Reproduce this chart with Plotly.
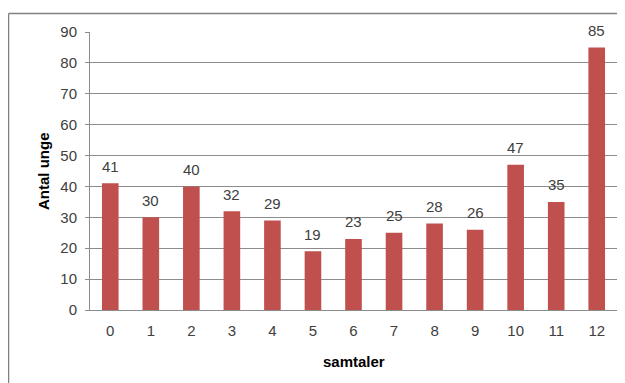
import plotly.graph_objects as go

categories = ["0", "1", "2", "3", "4", "5", "6", "7", "8", "9", "10", "11", "12"]
values = [41, 30, 40, 32, 29, 19, 23, 25, 28, 26, 47, 35, 85]
y_ticks = [0, 10, 20, 30, 40, 50, 60, 70, 80, 90]

# page body has an 8px margin, so the figure is shifted by 8px; compensate
OFF = 8
W, H = 625 - OFF, 383 - OFF
L, R, T, B = 90 - OFF, 8, 32 - OFF, 73
pw, ph = W - L - R, H - T - B

font = "Liberation Sans"
txt = "#404040"
grid = "#8c8c8c"

fig = go.Figure(go.Bar(
    x=categories, y=values,
    marker=dict(color="#C0504D", line=dict(width=0)),
    width=0.41, hoverinfo="skip",
))

label_ann = [dict(x=c, y=v, xref="x", yref="y", text=str(v), showarrow=False,
                  yanchor="middle", yshift=17,
                  font=dict(family=font, size=15, color=txt))
             for c, v in zip(categories, values)]


def px_x(p):
    return (p - OFF - L) / pw


def px_y(p):
    return (T + ph - (p - OFF)) / ph


fig.update_layout(
    width=W, height=H,
    margin=dict(l=L, r=R, t=T, b=B, pad=0),
    paper_bgcolor="white", plot_bgcolor="white",
    showlegend=False,
    font=dict(family=font, size=15, color=txt),
    xaxis=dict(type="category", showgrid=False, showline=True, linecolor=grid,
               linewidth=1, ticks="", tickfont=dict(size=15, color=txt),
               ticklabelstandoff=7),
    yaxis=dict(range=[0, 90], tickvals=y_ticks, showgrid=True, gridcolor=grid,
               gridwidth=1, showline=True, linecolor=grid, linewidth=1,
               ticks="outside", ticklen=4, tickcolor=grid, zeroline=False,
               tickfont=dict(size=15, color=txt), ticklabelstandoff=5),
    shapes=[
        dict(type="line", xref="paper", yref="paper",
             x0=px_x(8.5), x1=px_x(640), y0=px_y(13.5), y1=px_y(13.5),
             line=dict(color="#808080", width=1.5)),
        dict(type="line", xref="paper", yref="paper",
             x0=px_x(8.5), x1=px_x(8.5), y0=px_y(13.5), y1=px_y(400),
             line=dict(color="#808080", width=1.5)),
    ],
    annotations=label_ann + [
        dict(text="<b>samtaler</b>", xref="paper", yref="paper",
             x=0.5, y=px_y(361), showarrow=False,
             font=dict(family=font, size=15, color="black"),
             xanchor="center", yanchor="middle"),
        dict(text="<b>Antal unge</b>", xref="paper", yref="paper",
             x=px_x(43), y=0.5, showarrow=False, textangle=-90,
             font=dict(family=font, size=15, color="black"),
             xanchor="center", yanchor="middle"),
    ],
)

fig.write_html("out.html")
